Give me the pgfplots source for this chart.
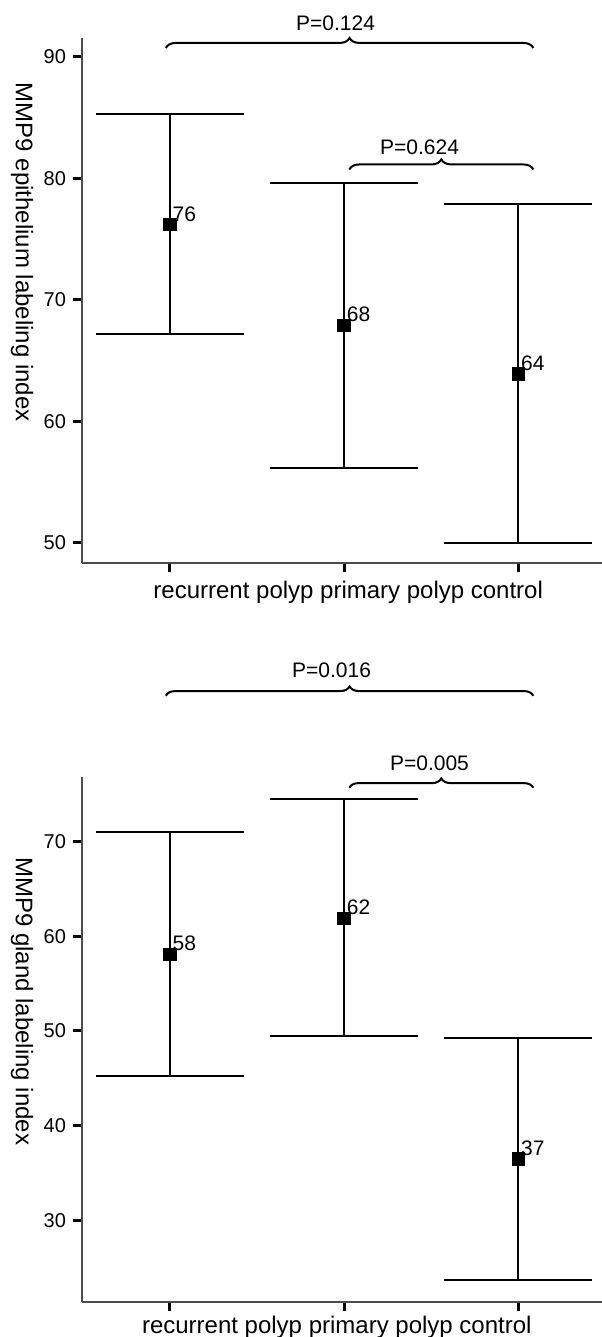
\documentclass[border=0pt]{standalone}
\usepackage{fontspec}
\setmainfont{Liberation Sans}
\usepackage{pgfplots}
\pgfplotsset{compat=1.18}
\usepackage{pgfplotstable}
\usetikzlibrary{decorations.pathreplacing}

% mean, upper and lower error, rounded label
\pgfplotstableread{
x y ep em lab
1 76.2 9.1 9.0 76
2 67.9 11.7 11.7 68
3 63.9 14.0 13.9 64
}\epi
\pgfplotstableread{
x y ep em lab
1 58.1 12.9 12.8 58
2 61.9 12.6 12.4 62
3 36.5 12.8 12.8 37
}\gland

\newcommand\labfont{\fontsize{12bp}{14bp}\selectfont}
\newcommand\pfont{\fontsize{10.5bp}{12bp}\selectfont}
\newcommand\numfont{\fontsize{10.5bp}{12bp}\selectfont}

\pgfplotsset{
  panel/.style={
    scale only axis, width=260bp, height=262.5bp,
    anchor=south west,
    xmin=0.496, xmax=3.48,
    axis x line*=bottom, axis y line*=left,
    axis line style={-, line width=0.9bp, black!70},
    xtick={1,2,3}, xticklabels={},
    tick align=outside, major tick length=4.5bp,
    tick style={line width=1.5bp, black},
    /pgf/number format/assume math mode=true,
    ticklabel style={font=\fontsize{10bp}{12bp}\selectfont},
    clip=false,
  },
  ebar/.style={only marks, mark=square*, mark size=3.1bp, black,
    nodes near coords={\numfont\pgfplotspointmeta},
    point meta=explicit symbolic,
    every node near coord/.style={anchor=south west, inner sep=0pt,
      xshift=1.2bp, yshift=1.5bp},
    error bars/.cd, y dir=both, y explicit,
    error bar style={line width=1bp, black},
    error mark options={rotate=90, line width=1bp, black, mark size=37bp}},
}

\begin{document}
\begin{tikzpicture}
\path[use as bounding box] (0,0) rectangle (301bp,668.5bp);

\begin{axis}[panel, at={(41bp,387bp)},
  ymin=48.35, ymax=91.56, ytick={50,60,70,80,90},
  ylabel={MMP9 epithelium labeling index},
  every axis y label/.style={rotate=-90, anchor=center, font=\labfont,
    at={(rel axis cs:-0.115,0.592)}},
  xlabel={recurrent polyp primary polyp control},
  every axis x label/.style={anchor=center, font=\labfont,
    at={(rel axis cs:0.512,-0.055)}},
]
\addplot[ebar] table[x=x, y=y, y error plus=ep, y error minus=em, meta=lab] {\epi};
\draw[line width=1bp, decorate, decoration={brace, amplitude=5bp}]
  (axis cs:0.977,90.74) -- (axis cs:3.086,90.74);
\draw[line width=1bp, decorate, decoration={brace, amplitude=5bp}]
  (axis cs:2.03,80.74) -- (axis cs:3.086,80.74);
\node[font=\pfont] at (axis cs:1.951,92.8) {P=0.124};
\node[font=\pfont] at (axis cs:2.433,82.55) {P=0.624};
\end{axis}

\begin{axis}[panel, at={(41bp,17.5bp)},
  ymin=21.4, ymax=76.8, ytick={30,40,50,60,70},
  ylabel={MMP9 gland labeling index},
  every axis y label/.style={rotate=-90, anchor=center, font=\labfont,
    at={(rel axis cs:-0.115,0.573)}},
  xlabel={recurrent polyp primary polyp control},
  every axis x label/.style={anchor=center, font=\labfont,
    at={(rel axis cs:0.49,-0.048)}},
]
\addplot[ebar] table[x=x, y=y, y error plus=ep, y error minus=em, meta=lab] {\gland};
\draw[line width=1bp, decorate, decoration={brace, amplitude=4.7bp}]
  (axis cs:0.977,85.37) -- (axis cs:3.086,85.37);
\draw[line width=1bp, decorate, decoration={brace, amplitude=4.7bp}]
  (axis cs:2.03,75.66) -- (axis cs:3.086,75.66);
\node[font=\pfont] at (axis cs:1.928,88.1) {P=0.016};
\node[font=\pfont] at (axis cs:2.49,78.3) {P=0.005};
\end{axis}
\end{tikzpicture}
\end{document}
